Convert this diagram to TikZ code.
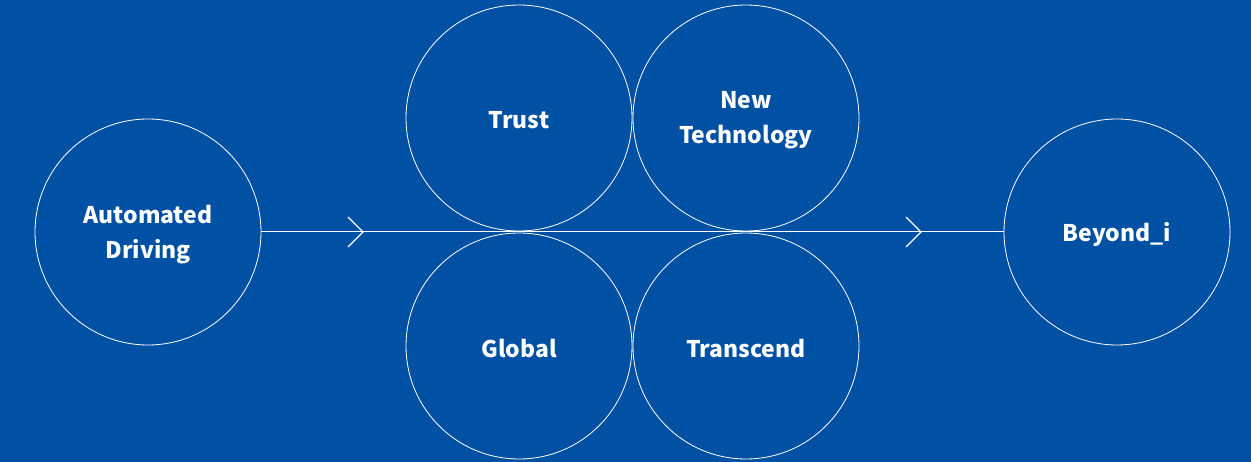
\documentclass[tikz,border=0pt]{standalone}
\usepackage{fontspec}
\newfontfamily\lab{Noto Sans CJK KR}
\definecolor{bg}{HTML}{0050A4}
\begin{document}
\begin{tikzpicture}[x=1bp,y=-1bp,
  ring/.style={circle,draw=white,line width=0.8bp,minimum size=226bp,inner sep=0pt},
  txt/.style={text=white,font=\lab\bfseries\fontsize{23}{35}\selectfont,align=center,yshift=-2.5bp,inner sep=0pt},
  conn/.style={draw=white,line width=1bp},
  chev/.style={draw=white,line width=1.2bp,line join=miter}]
\fill[bg] (0,0) rectangle (1251,462);
\useasboundingbox (0,0) rectangle (1251,462);
\node[ring,label={[txt]center:Automated\\Driving}] (auto) at (148,232) {};
\node[ring,label={[txt]center:Trust}] (trust) at (519,118) {};
\node[ring,label={[txt]center:New\\Technology}] (newtech) at (746,118) {};
\node[ring,label={[txt]center:Global}] (global) at (519,346) {};
\node[ring,label={[txt]center:Transcend}] (trans) at (746,346) {};
\node[ring,label={[txt]center:Beyond\_i}] (beyond) at (1117,232) {};
\draw[conn] (auto.east) -- (beyond.west);
\coordinate (tipa) at (363,232);
\coordinate (tipb) at (921,232);
\draw[chev] ([shift={(-15,-15)}]tipa) -- (tipa) -- ([shift={(-15,15)}]tipa);
\draw[chev] ([shift={(-15,-15)}]tipb) -- (tipb) -- ([shift={(-15,15)}]tipb);
\end{tikzpicture}
\end{document}
